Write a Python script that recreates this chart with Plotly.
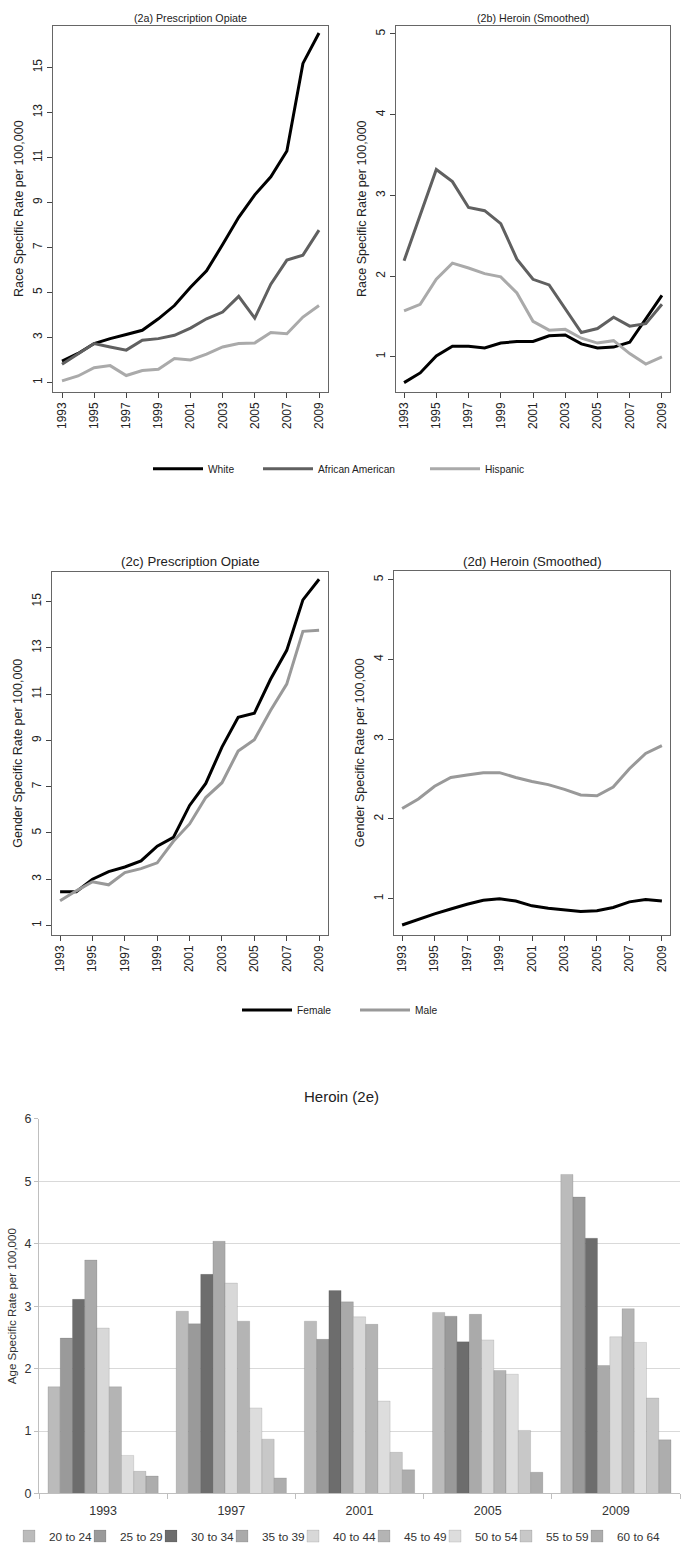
import plotly.graph_objects as go

# ---------------- data ----------------
years = list(range(1993, 2010))

race_names = ["White", "African American", "Hispanic"]
rx_white = [1.95, 2.29, 2.73, 2.95, 3.13, 3.32, 3.83, 4.42, 5.23, 5.96, 7.13, 8.34, 9.34, 10.14, 11.29, 15.18, 16.53]
rx_afam = [1.81, 2.26, 2.73, 2.58, 2.44, 2.88, 2.95, 3.10, 3.42, 3.83, 4.13, 4.83, 3.86, 5.37, 6.44, 6.66, 7.77]
rx_hisp = [1.07, 1.29, 1.66, 1.75, 1.31, 1.53, 1.59, 2.07, 2.00, 2.26, 2.58, 2.73, 2.76, 3.22, 3.17, 3.91, 4.42]

her_white = [0.68, 0.80, 1.01, 1.13, 1.13, 1.11, 1.17, 1.19, 1.19, 1.26, 1.27, 1.16, 1.11, 1.12, 1.18, 1.47, 1.76]
her_afam = [2.19, 2.76, 3.32, 3.17, 2.85, 2.81, 2.65, 2.21, 1.96, 1.89, 1.59, 1.30, 1.35, 1.49, 1.38, 1.41, 1.65]
her_hisp = [1.57, 1.65, 1.96, 2.16, 2.10, 2.03, 1.99, 1.79, 1.44, 1.33, 1.34, 1.23, 1.17, 1.20, 1.04, 0.91, 1.00]

gender_names = ["Female", "Male"]
rx_female = [2.46, 2.46, 3.00, 3.33, 3.53, 3.79, 4.43, 4.81, 6.19, 7.14, 8.71, 10.00, 10.17, 11.64, 12.89, 15.07, 15.96]
rx_male = [2.07, 2.50, 2.89, 2.76, 3.29, 3.46, 3.71, 4.64, 5.39, 6.53, 7.17, 8.54, 9.03, 10.29, 11.43, 13.71, 13.76]

her_female = [0.67, 0.74, 0.81, 0.87, 0.93, 0.98, 1.00, 0.97, 0.91, 0.88, 0.86, 0.84, 0.85, 0.89, 0.96, 0.99, 0.97]
her_male = [2.13, 2.25, 2.41, 2.52, 2.55, 2.58, 2.58, 2.52, 2.47, 2.43, 2.37, 2.30, 2.29, 2.40, 2.63, 2.82, 2.92]

bar_years = ["1993", "1997", "2001", "2005", "2009"]
age_groups = ["20 to 24", "25 to 29", "30 to 34", "35 to 39", "40 to 44",
              "45 to 49", "50 to 54", "55 to 59", "60 to 64"]
age_rates = {
    "20 to 24": [1.71, 2.92, 2.76, 2.90, 5.11],
    "25 to 29": [2.49, 2.72, 2.47, 2.84, 4.75],
    "30 to 34": [3.11, 3.51, 3.25, 2.43, 4.09],
    "35 to 39": [3.74, 4.04, 3.07, 2.87, 2.05],
    "40 to 44": [2.65, 3.37, 2.83, 2.46, 2.51],
    "45 to 49": [1.71, 2.76, 2.71, 1.97, 2.96],
    "50 to 54": [0.61, 1.37, 1.48, 1.91, 2.42],
    "55 to 59": [0.355, 0.87, 0.66, 1.01, 1.53],
    "60 to 64": [0.28, 0.25, 0.38, 0.34, 0.86],
}

# ---------------- styling ----------------
W, H = 688, 1554
FONT = "Liberation Sans, Arial, Helvetica, sans-serif"
race_colors = ["#000000", "#606060", "#aaaaaa"]
gender_colors = ["#000000", "#999999"]
age_colors = ["#bbbbbb", "#9a9a9a", "#6d6d6d", "#aaaaaa", "#d8d8d8",
              "#b4b4b4", "#dddddd", "#c8c8c8", "#adadad"]


def fx(p):
    return p / W


def fy(p):
    return 1 - p / H


fig = go.Figure()

# race panels
for i, (name, col) in enumerate(zip(race_names, race_colors)):
    lg = "legend" if i == 0 else f"legend{i + 1}"
    fig.add_trace(go.Scatter(x=years, y=[rx_white, rx_afam, rx_hisp][i], mode="lines",
                             name=name, line=dict(color=col, width=3),
                             xaxis="x", yaxis="y", legend=lg, showlegend=True))
    fig.add_trace(go.Scatter(x=years, y=[her_white, her_afam, her_hisp][i], mode="lines",
                             name=name, line=dict(color=col, width=3),
                             xaxis="x2", yaxis="y2", showlegend=False))

# gender panels
for i, (name, col) in enumerate(zip(gender_names, gender_colors)):
    lg = f"legend{i + 4}"
    fig.add_trace(go.Scatter(x=years, y=[rx_female, rx_male][i], mode="lines",
                             name=name, line=dict(color=col, width=3),
                             xaxis="x3", yaxis="y3", legend=lg, showlegend=True))
    fig.add_trace(go.Scatter(x=years, y=[her_female, her_male][i], mode="lines",
                             name=name, line=dict(color=col, width=3),
                             xaxis="x4", yaxis="y4", showlegend=False))

# age bars (one legend per entry so spacing matches)
for k, (name, col) in enumerate(zip(age_groups, age_colors)):
    fig.add_trace(go.Bar(x=bar_years, y=age_rates[name], name=name,
                         marker=dict(color=col, line=dict(color="rgba(0,0,0,0.18)", width=0.6)),
                         xaxis="x5", yaxis="y5", legend=f"legend{k + 6}"))

line_axis = dict(showline=True, mirror=True, linecolor="#666666", linewidth=1,
                 ticks="outside", ticklen=5, tickcolor="#444444", showgrid=False,
                 zeroline=False, tickangle=-90,
                 tickfont=dict(size=12, color="#222222", family=FONT))


def xax(dom, rng):
    d = dict(line_axis)
    d.update(domain=dom, range=rng, tickmode="array", tickvals=list(range(1993, 2010, 2)))
    return d


def yax(dom, rng, tv, title, anchor):
    d = dict(line_axis)
    d.update(domain=dom, range=rng, tickmode="array", tickvals=tv, anchor=anchor,
             title=dict(text=title, font=dict(size=12.5, color="#222222", family=FONT), standoff=4))
    return d


top_dom_y = [fy(388), fy(19)]
mid_dom_y = [fy(936), fy(570)]
odd = list(range(1, 17, 2))
one5 = [1, 2, 3, 4, 5]

layout = dict(
    width=W, height=H, margin=dict(l=0, r=0, t=0, b=0),
    paper_bgcolor="white", plot_bgcolor="white",
    font=dict(family=FONT, color="#222222"),
    barmode="group", bargap=0.14, bargroupgap=0,
    xaxis=dict(xax([fx(53), fx(328)], [1992.44, 2009.56]), anchor="y"),
    yaxis=yax(top_dom_y, [0.6, 16.85], odd, "Race Specific Rate per 100,000", "x"),
    xaxis2=dict(xax([fx(396), fx(670)], [1992.5, 2009.5]), anchor="y2"),
    yaxis2=yax(top_dom_y, [0.57, 5.1], one5, "Race Specific Rate per 100,000", "x2"),
    xaxis3=dict(xax([fx(52), fx(328)], [1992.5, 2009.55]), anchor="y3"),
    yaxis3=yax(mid_dom_y, [0.61, 16.28], odd, "Gender Specific Rate per 100,000", "x3"),
    xaxis4=dict(xax([fx(394), fx(670)], [1992.5, 2009.5]), anchor="y4"),
    yaxis4=yax([fy(936), fy(569)], [0.55, 5.11], one5, "Gender Specific Rate per 100,000", "x4"),
    xaxis5=dict(domain=[fx(39), fx(680)], anchor="y5", type="category",
                showline=True, linecolor="#bfbfbf", linewidth=1,
                ticks="outside", ticklen=5, tickcolor="#bfbfbf", tickson="boundaries",
                ticklabelstandoff=6,
                showgrid=False, tickfont=dict(size=12.5, color="#333333", family=FONT)),
    yaxis5=dict(domain=[fy(1500), fy(1122)], anchor="x5", range=[0, 6], dtick=1,
                showline=True, linecolor="#bfbfbf", linewidth=1,
                ticks="outside", ticklen=4, tickcolor="#bfbfbf",
                showgrid=True, gridcolor="#d9d9d9", gridwidth=1, zeroline=False,
                tickfont=dict(size=12.5, color="#333333", family=FONT),
                title=dict(text="Age Specific Rate per 100,000",
                           font=dict(size=11.5, color="#333333", family=FONT), standoff=5)),
    annotations=[
        dict(text="(2a) Prescription Opiate", x=fx(190), y=fy(11), xref="paper", yref="paper",
             showarrow=False, font=dict(size=10.7, color="#222222", family=FONT),
             xanchor="center", yanchor="middle"),
        dict(text="(2b) Heroin (Smoothed)", x=fx(533), y=fy(11), xref="paper", yref="paper",
             showarrow=False, font=dict(size=10.7, color="#222222", family=FONT),
             xanchor="center", yanchor="middle"),
        dict(text="(2c) Prescription Opiate", x=fx(190), y=fy(560), xref="paper", yref="paper",
             showarrow=False, font=dict(size=13.2, color="#222222", family=FONT),
             xanchor="center", yanchor="middle"),
        dict(text="(2d) Heroin (Smoothed)", x=fx(532), y=fy(560), xref="paper", yref="paper",
             showarrow=False, font=dict(size=13.2, color="#222222", family=FONT),
             xanchor="center", yanchor="middle"),
        dict(text="Heroin (2e)", x=fx(341), y=fy(1099), xref="paper", yref="paper",
             showarrow=False, font=dict(size=15, color="#222222", family=FONT),
             xanchor="center", yanchor="middle"),
    ],
)

leg_common = dict(orientation="h", bgcolor="rgba(0,0,0,0)", borderwidth=0,
                  xanchor="left", yanchor="middle", itemwidth=50,
                  font=dict(size=10.2, color="#222222", family=FONT))
leg_pos = {"legend": (153, 466), "legend2": (263, 466), "legend3": (430, 466),
           "legend4": (242, 1012), "legend5": (360, 1012)}
for k, (px, py) in leg_pos.items():
    d = dict(leg_common)
    d.update(x=fx(px - 5), y=fy(py))
    layout[k] = d

# bar legend entries: text starts at these pixel positions
bar_leg_text_x = [49, 120, 191, 262, 333, 404, 475, 546, 617]
for k, tx in enumerate(bar_leg_text_x):
    layout[f"legend{k + 6}"] = dict(orientation="h", bgcolor="rgba(0,0,0,0)", borderwidth=0,
                                    xanchor="left", yanchor="middle", x=fx(tx - 40), y=fy(1543),
                                    itemwidth=30,
                                    font=dict(size=11.8, color="#333333", family=FONT))

fig.update_layout(**layout)
fig.write_html("out.html", config={"displayModeBar": False},
               post_script="document.body.style.margin='0';document.body.style.overflow='hidden';")
